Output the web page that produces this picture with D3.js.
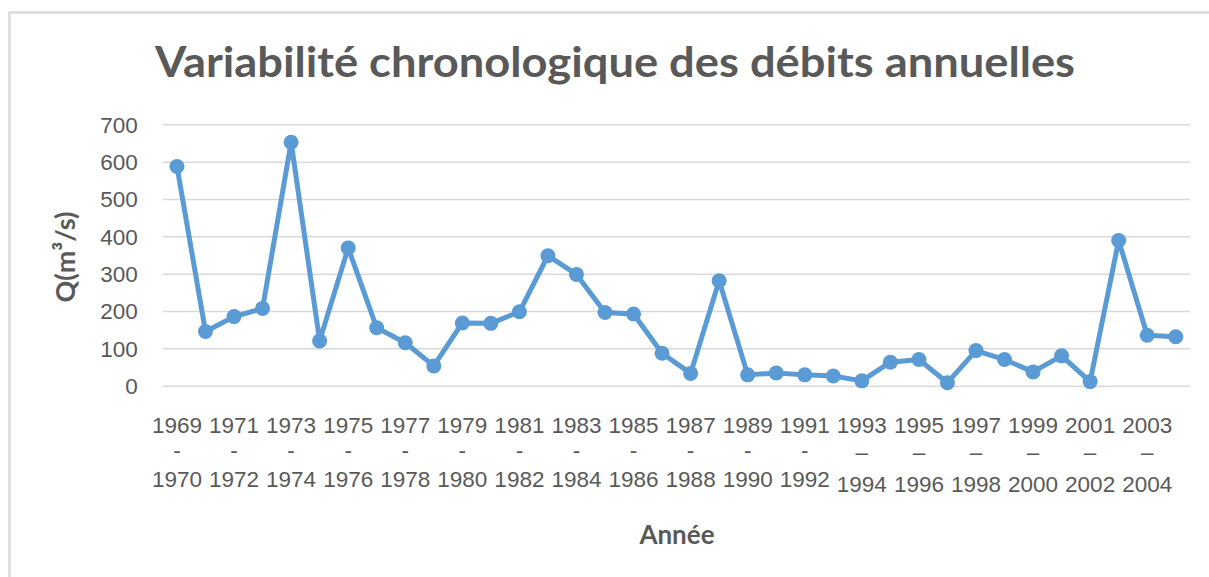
<!DOCTYPE html>
<html>
<head>
<meta charset="utf-8">
<script src="https://cdn.jsdelivr.net/npm/d3@7"></script>
<style>
  body { margin: 0; background: #fff; }
  svg { display: block; }
</style>
</head>
<body>
<div class="canvas"></div>
<script>
// data
const startYears = d3.range(1969, 2005) // 1969-1970 ... 2004-2005
const categories = startYears.map(y => `${y}${y >= 1993 ? '–' : '-'}${y + 1}`)
const debits = [587, 145, 185, 207, 652, 120, 369, 155, 115, 53,
  168, 167, 198, 348, 298, 196, 192, 87, 33, 281,
  29, 34, 29, 26, 13, 63, 70, 8, 94, 70,
  37, 80, 11, 389, 135, 131]
const yTicks = [0, 100, 200, 300, 400, 500, 600, 700]
const xTickLabels = categories.filter((d, i) => i % 2 === 0) // excel shows every other one

const titleText = 'Variabilité chronologique des débits annuelles'
const yTitle = 'Q(m³/s)'
const xTitle = 'Année'

// dimension
const dims = { width: 1209, height: 577 }
const plot = { left: 162.7, right: 1190, top: 124.3, bottom: 385.7 }

const grey = '#595959'
const blue = '#5B9BD5'

const svg = d3.select('.canvas')
  .append('svg')
  .attr('width', dims.width)
  .attr('height', dims.height)

// chart area border (only top + left visible)
svg.append('path')
  .attr('d', `M9.5,${dims.height} V12.5 H${dims.width}`)
  .attr('fill', 'none')
  .attr('stroke', '#d9d9d9')
  .attr('stroke-width', 2.5)

svg.append('text')
  .attr('x', 155)
  .attr('y', 77)
  .attr('textLength', 920)
  .attr('lengthAdjust', 'spacingAndGlyphs')
  .attr('font-family', 'Lato, "Open Sans", sans-serif')
  .attr('font-weight', 700)
  .attr('font-size', 42)
  .attr('fill', grey)
  .text(titleText)

const x = d3.scaleBand()
  .domain(categories)
  .range([plot.left, plot.right])

const y = d3.scaleLinear()
  .domain([0, 700])
  .range([plot.bottom, plot.top])

// y axis + gridlines
const yAxis = d3.axisLeft(y)
  .tickValues(yTicks)
  .tickSize(-(plot.right - plot.left))
  .tickPadding(25)

const yGroup = svg.append('g')
  .attr('transform', `translate(${plot.left}, 0)`)
  .call(yAxis)

yGroup.select('.domain').remove()
yGroup.selectAll('line')
  .attr('stroke', '#d9d9d9')
  .attr('stroke-width', 1.5)
yGroup.selectAll('text')
  .attr('font-family', '"Liberation Sans", Arial, sans-serif')
  .attr('font-size', 22.5)
  .attr('fill', grey)
  .attr('dy', '0.35em')

// x axis, labels wrapped on 3 lines
const xAxis = d3.axisBottom(x)
  .tickValues(xTickLabels)
  .tickSize(0)
  .tickFormat('')

const xGroup = svg.append('g')
  .attr('transform', `translate(0, ${plot.bottom})`)
  .call(xAxis)

xGroup.select('.domain').remove()
xGroup.selectAll('.tick text')
  .attr('font-family', '"Liberation Sans", Arial, sans-serif')
  .attr('font-size', 22.5)
  .attr('fill', grey)
  .attr('y', 0)
  .attr('dy', null)
  .each(function(d) {
    const enDash = d.includes('–')
    const [a, b] = d.split(/[-–]/)
    const t = d3.select(this)
    t.append('tspan').attr('x', 0).attr('y', 47).text(a)
    t.append('tspan').attr('x', 0).attr('y', enDash ? 74 : 72).text(enDash ? '–' : '-')
    t.append('tspan').attr('x', 0).attr('y', enDash ? 106 : 101.5).text(b)
  })

// axis titles
svg.append('text')
  .attr('transform', 'translate(75, 257) rotate(-90)')
  .attr('text-anchor', 'middle')
  .attr('font-family', 'Lato, "Open Sans", sans-serif')
  .attr('font-weight', 700)
  .attr('font-size', 27)
  .attr('fill', grey)
  .text(yTitle)

svg.append('text')
  .attr('x', 677)
  .attr('y', 544)
  .attr('text-anchor', 'middle')
  .attr('font-family', 'Lato, "Open Sans", sans-serif')
  .attr('font-weight', 700)
  .attr('font-size', 26)
  .attr('fill', grey)
  .text(xTitle)

// series
const pts = categories.map((c, i) => ({ cat: c, value: debits[i] }))
const cx = d => x(d.cat) + x.bandwidth() / 2

const line = d3.line()
  .x(cx)
  .y(d => y(d.value))

const graph = svg.append('g')

graph.append('path')
  .datum(pts)
  .attr('d', line)
  .attr('fill', 'none')
  .attr('stroke', blue)
  .attr('stroke-width', 5)
  .attr('stroke-linejoin', 'round')
  .attr('stroke-linecap', 'round')

graph.selectAll('circle')
  .data(pts)
  .enter()
  .append('circle')
    .attr('cx', cx)
    .attr('cy', d => y(d.value))
    .attr('r', 7.5)
    .attr('fill', blue)
</script>
</body>
</html>
